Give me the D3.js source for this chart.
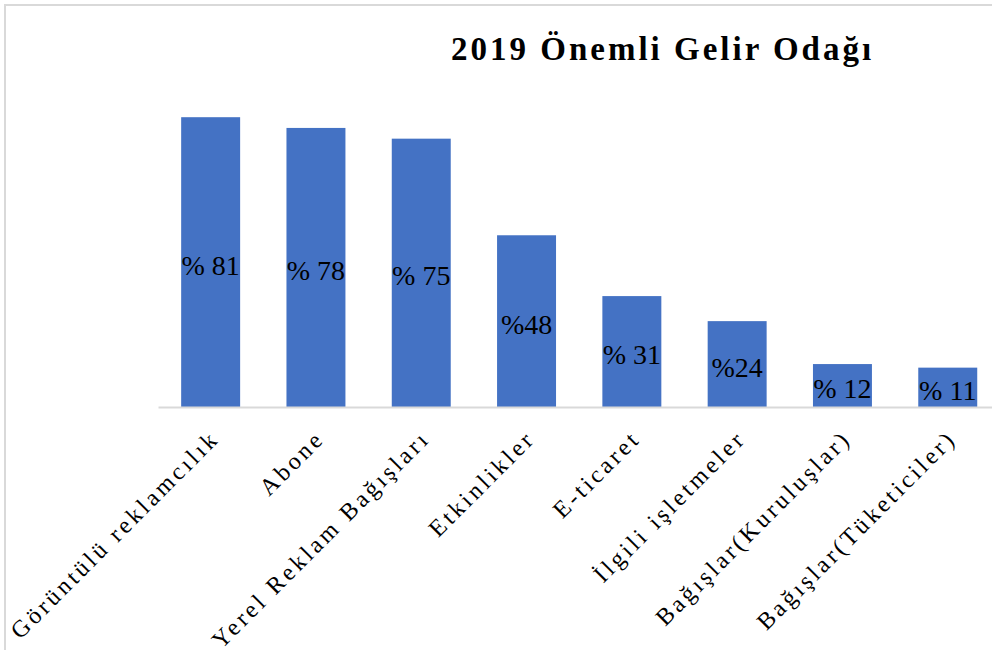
<!DOCTYPE html>
<meta charset="utf-8">
<style>
body { margin: 0; background: #fff; }
.title { font: bold 33px "Liberation Serif", serif; letter-spacing: 3px; fill: #000; }
.bar { fill: #4472C4; }
.val { font: 28px "Liberation Serif", serif; fill: #000; text-anchor: middle; }
.axis path, .axis line { stroke: #d9d9d9; stroke-width: 2; }
.axis text { font: 24px "Liberation Serif", serif; letter-spacing: 3.3px; fill: #000; }
</style>
<svg class="chart"></svg>
<script src="https://d3js.org/d3.v7.min.js"></script>
<script>

var categories = ["Görüntülü reklamcılık", "Abone", "Yerel Reklam Bağışları", "Etkinlikler",
                  "E-ticaret", "İlgili işletmeler", "Bağışlar(Kuruluşlar)", "Bağışlar(Tüketiciler)"];
var values = [81, 78, 75, 48, 31, 24, 12, 11];
var valueLabels = ["% 81", "% 78", "% 75", "%48", "% 31", "%24", "% 12", "% 11"];

var width = 992, height = 650;

var svg = d3.select(".chart")
    .attr("width", width)
    .attr("height", height);

// chart border
svg.append("rect")
    .attr("x", 5).attr("y", 5)
    .attr("width", width).attr("height", height)
    .attr("fill", "none")
    .attr("stroke", "#d9d9d9")
    .attr("stroke-width", 2);

svg.append("text")
    .attr("class", "title")
    .attr("x", 451)
    .attr("y", 60)
    .text("2019 Önemli Gelir Odağı");

var x = d3.scaleBand()
    .domain(categories)
    .range([158, 158 + 8 * 105.3])
    .paddingInner(0.44)
    .paddingOuter(0.22);

var y = d3.scaleLinear()
    .domain([0, 90])
    .range([407, 85]);

svg.selectAll(".bar")
    .data(values)
  .enter().append("rect")
    .attr("class", "bar")
    .attr("x", function(d, i) { return x(categories[i]); })
    .attr("y", function(d) { return y(d); })
    .attr("width", x.bandwidth())
    .attr("height", function(d) { return y(0) - y(d); });

var xAxis = d3.axisBottom(x).tickSize(0).tickSizeOuter(0);

var gx = svg.append("g")
    .attr("class", "axis")
    .attr("transform", "translate(0," + y(0) + ")")
    .call(xAxis);

gx.selectAll(".tick text")
    .attr("text-anchor", "end")
    .attr("x", 0).attr("y", 0).attr("dy", null)
    .attr("transform", "translate(10,33) rotate(-45)");

svg.selectAll(".val")
    .data(values)
  .enter().append("text")
    .attr("class", "val")
    .attr("x", function(d, i) { return x(categories[i]) + x.bandwidth() / 2; })
    .attr("y", function(d) { return (y(d) + y(0)) / 2 + 12.5; })
    .text(function(d, i) { return valueLabels[i]; });

</script>
